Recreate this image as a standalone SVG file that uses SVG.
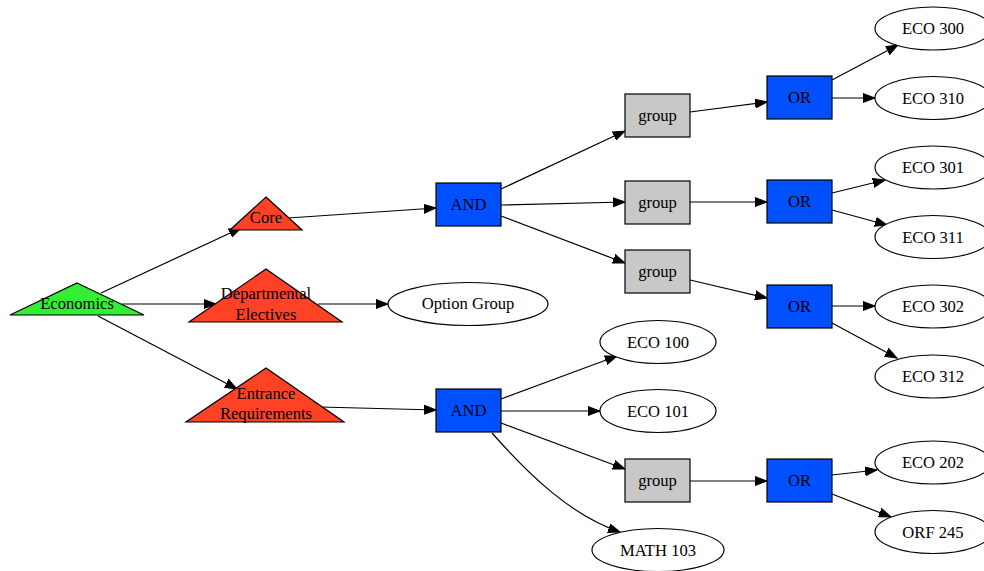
<svg xmlns="http://www.w3.org/2000/svg" width="984" height="571" viewBox="0 0 984 571">
<style>
text{font-family:"Liberation Serif","Times New Roman",serif;font-size:16.6px;text-anchor:middle;fill:#000}
.tri{stroke:#000;stroke-width:1.2}
.green{fill:#33ee33}
.red{fill:#ff4126}
.box{stroke:#000;stroke-width:1.2}
.blue{fill:#0050ff}
.gray{fill:#c8c8c8}
.ell{fill:#fff;stroke:#000;stroke-width:1.2}
.edge{fill:none;stroke:#000;stroke-width:1.2;marker-end:url(#arr)}
</style>
<defs>
<marker id="arr" markerUnits="userSpaceOnUse" markerWidth="13" markerHeight="10" refX="12" refY="4.5" orient="auto" viewBox="0 0 13 9">
<path d="M0,0 L12,4.5 L0,9 z" fill="#000" stroke="#000" stroke-width="1"/>
</marker>
</defs>
<rect width="984" height="571" fill="#fff"/>
<g id="connectors">
<line class="edge" x1="101" y1="293" x2="241" y2="228"/>
<line class="edge" x1="122" y1="304" x2="216" y2="304"/>
<line class="edge" x1="98" y1="316" x2="237" y2="389"/>
<line class="edge" x1="288" y1="218" x2="436" y2="208"/>
<line class="edge" x1="318" y1="304" x2="388" y2="304"/>
<line class="edge" x1="320" y1="407" x2="436" y2="410"/>
<line class="edge" x1="501" y1="189" x2="625" y2="131"/>
<line class="edge" x1="501" y1="205" x2="625" y2="202"/>
<line class="edge" x1="501" y1="216" x2="625" y2="263"/>
<line class="edge" x1="690" y1="112" x2="767" y2="102"/>
<line class="edge" x1="690" y1="202" x2="767" y2="202"/>
<line class="edge" x1="690" y1="280" x2="767" y2="298"/>
<line class="edge" x1="832" y1="80" x2="898" y2="45"/>
<line class="edge" x1="832" y1="98" x2="875" y2="98"/>
<line class="edge" x1="832" y1="193" x2="885" y2="180"/>
<line class="edge" x1="832" y1="210" x2="887" y2="225"/>
<line class="edge" x1="832" y1="306" x2="875" y2="306"/>
<line class="edge" x1="832" y1="323" x2="897" y2="358"/>
<line class="edge" x1="501" y1="399" x2="617" y2="356"/>
<line class="edge" x1="501" y1="411" x2="600" y2="411"/>
<line class="edge" x1="501" y1="423" x2="625" y2="469"/>
<path class="edge" d="M492,433 C530,476 572,516 620,532"/>
<line class="edge" x1="690" y1="481" x2="767" y2="481"/>
<line class="edge" x1="832" y1="475" x2="877" y2="470"/>
<line class="edge" x1="832" y1="494" x2="891" y2="517"/>
</g>
<g id="economics"><polygon class="tri green" points="77,283 144,315 10,315"/><text x="77" y="309">Economics</text></g>
<g id="core"><polygon class="tri red" points="266,197 302,230 230,230"/><text x="266" y="223">Core</text></g>
<g id="departmental-electives"><polygon class="tri red" points="266,269 342,322 189,322"/><text x="266" y="299">Departmental</text><text x="266" y="320">Electives</text></g>
<g id="entrance-requirements"><polygon class="tri red" points="266,368 344,422 186,422"/><text x="266" y="399">Entrance</text><text x="266" y="419">Requirements</text></g>
<g id="option-group"><ellipse class="ell" cx="468" cy="304" rx="80" ry="21.5"/><text x="468" y="309">Option Group</text></g>
<g id="and-core"><rect class="box blue" x="436" y="183" width="65" height="43"/><text x="468.5" y="210">AND</text></g>
<g id="and-entrance"><rect class="box blue" x="436" y="389" width="65" height="43"/><text x="468.5" y="416">AND</text></g>
<g id="group1"><rect class="box gray" x="625" y="94" width="65" height="43"/><text x="657.5" y="121">group</text></g>
<g id="group2"><rect class="box gray" x="625" y="181" width="65" height="43"/><text x="657.5" y="208">group</text></g>
<g id="group3"><rect class="box gray" x="625" y="250" width="65" height="43"/><text x="657.5" y="277">group</text></g>
<g id="group4"><rect class="box gray" x="625" y="459" width="65" height="43"/><text x="657.5" y="486">group</text></g>
<g id="or1"><rect class="box blue" x="767" y="76" width="65" height="43"/><text x="799.5" y="103">OR</text></g>
<g id="or2"><rect class="box blue" x="767" y="180" width="65" height="43"/><text x="799.5" y="207">OR</text></g>
<g id="or3"><rect class="box blue" x="767" y="285" width="65" height="43"/><text x="799.5" y="312">OR</text></g>
<g id="or4"><rect class="box blue" x="767" y="459" width="65" height="43"/><text x="799.5" y="486">OR</text></g>
<g id="eco300"><ellipse class="ell" cx="933" cy="28.5" rx="58" ry="21.5"/><text x="933" y="34">ECO 300</text></g>
<g id="eco310"><ellipse class="ell" cx="933" cy="98" rx="58" ry="21.5"/><text x="933" y="103.5">ECO 310</text></g>
<g id="eco301"><ellipse class="ell" cx="933" cy="167.5" rx="58" ry="21.5"/><text x="933" y="173">ECO 301</text></g>
<g id="eco311"><ellipse class="ell" cx="933" cy="237" rx="58" ry="21.5"/><text x="933" y="242.5">ECO 311</text></g>
<g id="eco302"><ellipse class="ell" cx="933" cy="306.5" rx="58" ry="21.5"/><text x="933" y="312">ECO 302</text></g>
<g id="eco312"><ellipse class="ell" cx="933" cy="376.5" rx="58" ry="21.5"/><text x="933" y="382">ECO 312</text></g>
<g id="eco202"><ellipse class="ell" cx="933" cy="462.5" rx="58" ry="21.5"/><text x="933" y="468">ECO 202</text></g>
<g id="orf245"><ellipse class="ell" cx="933" cy="532" rx="58" ry="21.5"/><text x="933" y="537.5">ORF 245</text></g>
<g id="eco100"><ellipse class="ell" cx="658" cy="342" rx="58" ry="21.5"/><text x="658" y="347.5">ECO 100</text></g>
<g id="eco101"><ellipse class="ell" cx="658" cy="411" rx="58" ry="21.5"/><text x="658" y="416.5">ECO 101</text></g>
<g id="math103"><ellipse class="ell" cx="658" cy="550" rx="66" ry="21.5"/><text x="658" y="555.5">MATH 103</text></g>
</svg>
